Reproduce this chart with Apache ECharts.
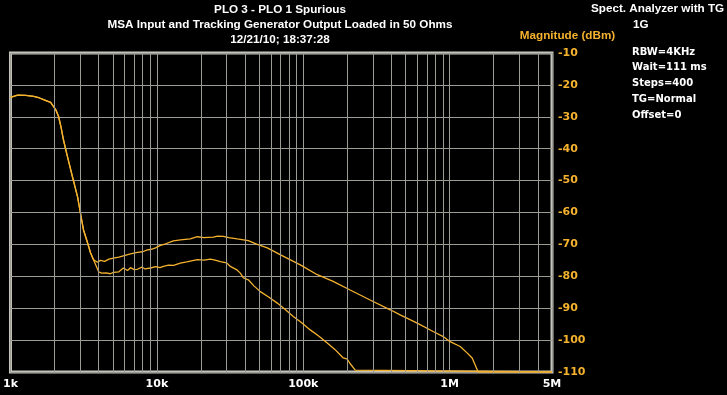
<!DOCTYPE html>
<html>
<head>
<meta charset="utf-8">
<script src="https://cdn.jsdelivr.net/npm/echarts@6/dist/echarts.min.js"></script>
<style>
html,body{margin:0;padding:0;background:#000;}
#chart{width:727px;height:395px;}
</style>
</head>
<body>
<div id="chart"></div>
<script>
// ---- data (frequency in Hz, magnitude in dBm) ----
const titleLines = ['PLO 3 - PLO 1 Spurious', 'MSA Input and Tracking Generator Output Loaded in 50 Ohms', '12/21/10; 18:37:28'];
const infoHeader = ['Spect. Analyzer with TG', '1G'];
const infoLines = ['RBW=4KHz', 'Wait=111 ms', 'Steps=400', 'TG=Normal', 'Offset=0'];
const yAxisName = 'Magnitude (dBm)';

// common low-frequency part (both traces overlap)
const commonFreq = [1000, 1016, 1120, 1270, 1440, 1580, 1680, 1880, 1970, 2050, 2130, 2220, 2300, 2450, 2650, 2870, 3000, 3150, 3360, 3520, 3690];
const commonMag  = [-23.9, -23.3, -23.2, -23.3, -23.6, -24.1, -24.6, -25.5, -26.8, -28.0, -29.9, -33.5, -37.2, -42.5, -48.8, -55.0, -60.0, -65.4, -69.5, -72.6, -74.8];

// trace A (upper)
const traceAFreq = [3930, 4110, 4400, 4700, 5050, 5500, 5900, 6600, 7360, 8000, 8610, 9030, 9800, 10560, 11500, 12960, 14500, 16900, 18900, 21000, 24300, 26000, 28400, 31000, 35400, 42100, 48000, 56800, 70000, 95400, 124600, 160000, 209000, 300000, 393000, 459000, 600000, 771000, 903000, 1007000, 1180000, 1315000, 1424000, 1494000, 1565000, 1600000, 5000000];
const traceAMag  = [-75.6, -75.0, -75.3, -74.6, -74.3, -74.0, -73.6, -73.0, -72.5, -72.3, -71.7, -71.6, -71.1, -70.3, -69.8, -68.9, -68.6, -68.3, -67.6, -67.9, -67.7, -67.4, -67.5, -67.9, -68.3, -68.8, -69.9, -71.1, -73.3, -76.4, -79.5, -81.6, -84.3, -87.9, -90.5, -92.1, -94.7, -97.3, -98.9, -100.5, -102.0, -104.0, -105.6, -107.8, -110, -110, -110];

// trace B (lower)
const traceBFreq = [3870, 4000, 4200, 4500, 4800, 5050, 5500, 5900, 6300, 6600, 7000, 7360, 7900, 8300, 9030, 9800, 10500, 11080, 12000, 13000, 14470, 16000, 18900, 21000, 23190, 25000, 27130, 30000, 31750, 35000, 37150, 39000, 42130, 46000, 50870, 58000, 66450, 75000, 85440, 97000, 111600, 128000, 145800, 165000, 187500, 200000, 210000, 226400, 232000, 5000000];
const traceBMag  = [-77.0, -78.6, -79.0, -78.9, -79.2, -78.8, -78.6, -77.4, -78.2, -77.3, -77.9, -77.8, -77.1, -77.7, -77.4, -77.0, -77.3, -76.9, -76.5, -76.6, -75.9, -75.5, -74.8, -74.9, -74.6, -74.9, -75.4, -75.8, -76.9, -77.9, -79.0, -80.5, -81.1, -83.0, -84.8, -86.5, -88.4, -90.3, -92.6, -94.5, -96.8, -98.8, -100.9, -103.0, -105.6, -106.0, -107.5, -109.4, -110, -110];

// minor log grid frequencies
const minorGridFreq = [2e3,3e3,4e3,5e3,6e3,7e3,8e3,9e3, 2e4,3e4,4e4,5e4,6e4,7e4,8e4,9e4, 2e5,3e5,4e5,5e5,6e5,7e5,8e5,9e5, 2e6,3e6,4e6];

const xMin = 1000, xMax = 5000000, yMin = -110, yMax = -10, yStep = 10;

// ---- build ----
function pairs(f, m) { return f.map((v, i) => [v, m[i]]); }
const dataA = pairs(commonFreq, commonMag).concat(pairs(traceAFreq, traceAMag));
const dataB = pairs(commonFreq, commonMag).concat(pairs(traceBFreq, traceBMag));

const ORANGE = '#f5b22e';
const GRIDC = '#9c9c94';
const FRAME = '#c4c4bc';
const NARROW = "'Liberation Sans', Arial, sans-serif";
const BOLDF = "'DejaVu Sans', Verdana, sans-serif";

function fmtFreq(v) {
  const r = Number(v.toPrecision(6));
  if (r >= 1e6) return (r / 1e6) + 'M';
  if (r >= 1e3) return (r / 1e3) + 'k';
  return String(r);
}

const chart = echarts.init(document.getElementById('chart'), null, {renderer: 'canvas'});

const graphics = [];
infoHeader.forEach((t, i) => {
  graphics.push({type: 'text', left: i === 0 ? 591 : 633, top: 3 + i * 15.5,
    style: {text: t, fill: '#fff', font: 'bold 11.7px ' + NARROW}});
});
infoLines.forEach((t, i) => {
  graphics.push({type: 'text', left: 632, top: 47 + i * 15.8,
    style: {text: t, fill: '#fff', font: 'bold 10px ' + BOLDF}});
});

chart.setOption({
  backgroundColor: '#000',
  animation: false,
  title: {
    text: titleLines.join('\n'),
    left: 280, top: 2, padding: 0, textAlign: 'center',
    textStyle: {color: '#fff', fontFamily: NARROW, fontWeight: 'bold', fontSize: 11.7, lineHeight: 15}
  },
  graphic: graphics,
  grid: {left: 10, top: 53, width: 542, height: 319, show: true, borderColor: FRAME, borderWidth: 3, backgroundColor: 'transparent'},
  xAxis: {
    type: 'log', logBase: 10, min: xMin, max: xMax,
    axisLine: {show: false}, axisTick: {show: false},
    axisLabel: {color: '#fff', fontFamily: BOLDF, fontWeight: 'bold', fontSize: 11, margin: 7,
      showMinLabel: true, showMaxLabel: true, formatter: fmtFreq},
    splitLine: {show: true, lineStyle: {color: GRIDC, width: 1}}
  },
  yAxis: {
    type: 'value', position: 'right', min: yMin, max: yMax, interval: yStep,
    name: yAxisName, nameLocation: 'end', nameGap: 11,
    nameTextStyle: {color: ORANGE, fontFamily: NARROW, fontWeight: 'bold', fontSize: 11.7, align: 'center', padding: [0, 0, 0, 31]},
    axisLine: {show: false}, axisTick: {show: false},
    axisLabel: {color: ORANGE, fontFamily: BOLDF, fontWeight: 'bold', fontSize: 11, margin: 6},
    splitLine: {show: true, lineStyle: {color: GRIDC, width: 1}}
  },
  series: [
    {
      name: 'minor grid', type: 'line', data: [], z: 1, silent: true,
      markLine: {silent: true, symbol: ['none', 'none'], animation: false, label: {show: false},
        lineStyle: {color: GRIDC, width: 1, type: 'solid'},
        emphasis: {disabled: true},
        data: minorGridFreq.map(f => ({xAxis: f}))}
    },
    {name: 'Trace A', type: 'line', data: dataA, showSymbol: false, z: 3,
      lineStyle: {color: ORANGE, width: 1.3}, itemStyle: {color: ORANGE}},
    {name: 'Trace B', type: 'line', data: dataB, showSymbol: false, z: 3,
      lineStyle: {color: ORANGE, width: 1.3}, itemStyle: {color: ORANGE}}
  ]
});
</script>
</body>
</html>
